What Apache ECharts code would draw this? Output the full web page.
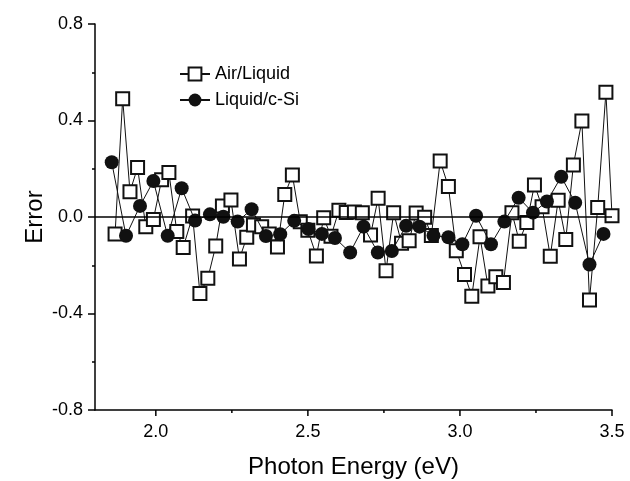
<!DOCTYPE html>
<html>
<head>
<meta charset="utf-8">
<script src="https://cdn.jsdelivr.net/npm/echarts@6/dist/echarts.min.js"></script>
<style>html,body{margin:0;padding:0;background:#fff}#c{width:630px;height:481px}</style>
</head>
<body>
<div id="c"></div>
<script>
const airX = [1.866,1.891,1.915,1.940,1.967,1.992,2.019,2.043,2.069,2.090,2.121,2.145,2.171,2.197,2.219,2.247,2.275,2.299,2.321,2.348,2.373,2.400,2.424,2.449,2.475,2.500,2.528,2.552,2.576,2.602,2.626,2.653,2.679,2.706,2.731,2.757,2.782,2.808,2.833,2.856,2.884,2.906,2.935,2.962,2.988,3.015,3.039,3.066,3.092,3.118,3.143,3.171,3.195,3.220,3.245,3.270,3.297,3.323,3.348,3.373,3.401,3.426,3.453,3.480,3.500];
const airY = [-0.07,0.49,0.105,0.205,-0.04,-0.01,0.154,0.184,-0.06,-0.126,0.004,-0.317,-0.254,-0.12,0.046,0.07,-0.174,-0.084,-0.033,-0.04,-0.07,-0.124,0.093,0.174,-0.02,-0.055,-0.162,-0.003,-0.08,0.028,0.019,0.021,0.018,-0.075,0.078,-0.223,0.018,-0.109,-0.098,0.017,-0.001,-0.077,0.232,0.126,-0.14,-0.238,-0.328,-0.082,-0.286,-0.248,-0.272,0.018,-0.1,-0.023,0.133,0.043,-0.163,0.069,-0.093,0.216,0.398,-0.344,0.039,0.517,0.005];
const liqX = [1.855,1.902,1.948,1.992,2.039,2.085,2.129,2.178,2.222,2.269,2.315,2.362,2.409,2.455,2.502,2.546,2.589,2.639,2.683,2.730,2.776,2.823,2.867,2.913,2.962,3.008,3.053,3.102,3.146,3.193,3.240,3.286,3.333,3.379,3.426,3.472];
const liqY = [0.227,-0.078,0.046,0.149,-0.078,0.119,-0.015,0.011,0.001,-0.019,0.032,-0.079,-0.071,-0.016,-0.05,-0.07,-0.087,-0.147,-0.04,-0.147,-0.141,-0.036,-0.04,-0.077,-0.084,-0.113,0.005,-0.113,-0.019,0.08,0.018,0.064,0.167,0.059,-0.197,-0.07];
const xLabels = [2.0, 2.5, 3.0, 3.5];
const xMinorTicks = [2.25, 2.75, 3.25];
const seriesNames = ['Air/Liquid', 'Liquid/c-Si'];
const X_MIN = 1.8, X_MAX = 3.5, Y_MIN = -0.8, Y_MAX = 0.8;

const FONT = 'Liberation Sans, Arial, sans-serif';
const chart = echarts.init(document.getElementById('c'), null, {renderer: 'canvas'});

// bottom-axis tick marks, positioned through the axis scale
const tickSeries = (vals, len) => ({
  type: 'custom', silent: true, clip: false, z: 1,
  data: vals.map(v => [v, Y_MIN]),
  renderItem: (params, api) => {
    const p = api.coord([api.value(0), api.value(1)]);
    return {type: 'line', shape: {x1: p[0], y1: p[1], x2: p[0], y2: p[1] + len},
      style: {stroke: '#000', lineWidth: 1.5}};
  }
});

chart.setOption({
  animation: false,
  backgroundColor: '#fff',
  grid: {left: 95, right: 18, top: 24, bottom: 71, containLabel: false, outerBoundsMode: 'none'},
  legend: {
    orient: 'vertical', left: 174, top: 60, itemGap: 8,
    itemWidth: 30, itemHeight: 16,
    textStyle: {fontFamily: FONT, fontSize: 18, color: '#000'},
    data: seriesNames
  },
  xAxis: {
    type: 'value', min: X_MIN, max: X_MAX,
    name: 'Photon Energy (eV)', nameLocation: 'middle', nameGap: 45,
    nameTextStyle: {fontFamily: FONT, fontSize: 24, color: '#000'},
    axisLine: {show: true, onZero: false, lineStyle: {color: '#000', width: 1.5}},
    axisTick: {show: false},
    axisLabel: {customValues: xLabels, margin: 13, fontFamily: FONT, fontSize: 18, color: '#000',
      formatter: v => v.toFixed(1)},
    splitLine: {show: false}
  },
  yAxis: {
    type: 'value', min: Y_MIN, max: Y_MAX, interval: 0.4,
    name: 'Error', nameLocation: 'middle', nameGap: 48, nameMoveOverlap: false,
    nameTextStyle: {fontFamily: FONT, fontSize: 24, color: '#000'},
    axisLine: {show: true, lineStyle: {color: '#000', width: 1.5}},
    axisTick: {show: true, length: 7, lineStyle: {color: '#000', width: 1.5}},
    minorTick: {show: true, splitNumber: 2, length: 3, lineStyle: {color: '#000', width: 1.5}},
    axisLabel: {margin: 12, fontFamily: FONT, fontSize: 18, color: '#000', formatter: v => v.toFixed(1)},
    splitLine: {show: false}
  },
  series: [tickSeries(xLabels, 6), tickSeries(xMinorTicks, 3), {
    name: seriesNames[0], type: 'line',
    data: airX.map((x, i) => [x, airY[i]]),
    symbol: 'emptyRect', symbolSize: 13,
    itemStyle: {color: '#111', borderWidth: 1.3},
    lineStyle: {color: '#111', width: 1},
    clip: false,
    markLine: {
      silent: true, symbol: 'none', label: {show: false},
      lineStyle: {color: '#000', width: 1.5, type: 'solid'},
      data: [{yAxis: 0}]
    },
    z: 2
  }, {
    name: seriesNames[1], type: 'line',
    data: liqX.map((x, i) => [x, liqY[i]]),
    symbol: 'circle', symbolSize: 14,
    itemStyle: {color: '#111'},
    lineStyle: {color: '#111', width: 1},
    z: 3
  }]
});
</script>
</body>
</html>
